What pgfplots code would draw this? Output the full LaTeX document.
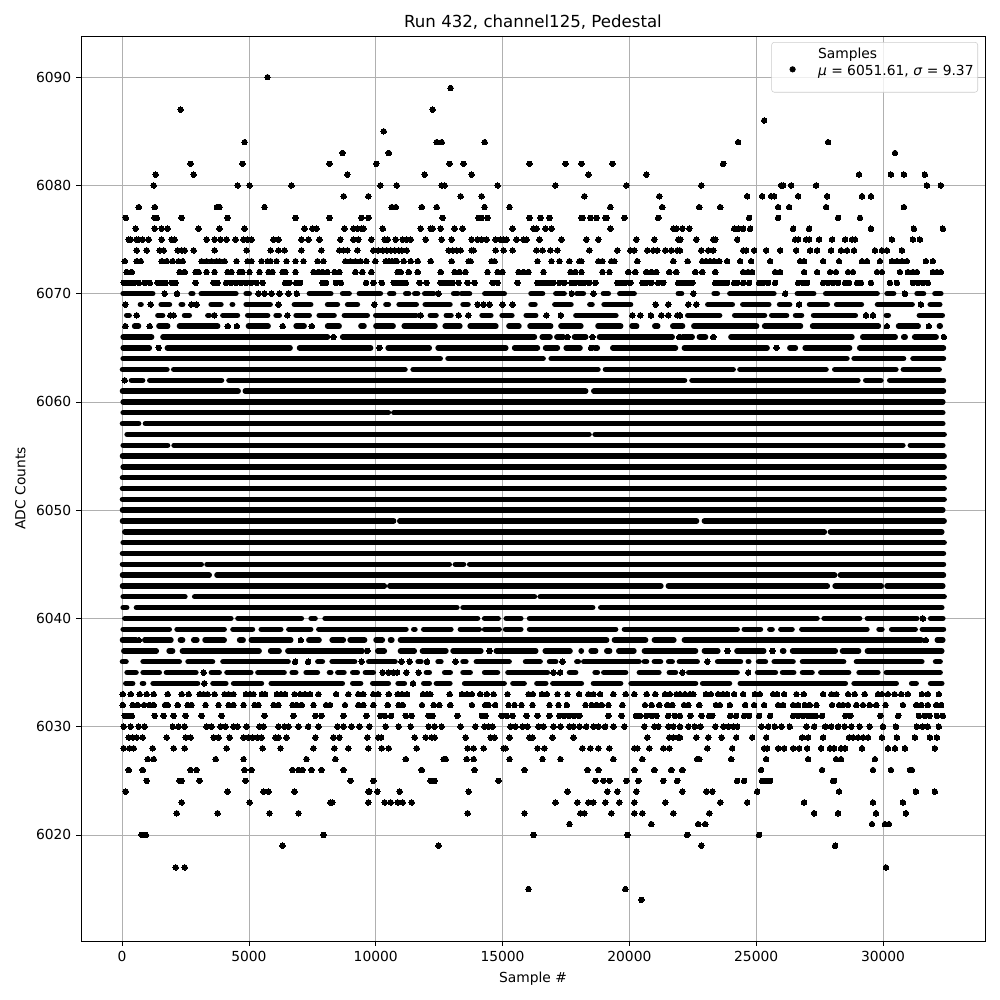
\documentclass[border=0pt]{standalone}
\usepackage{fontspec}
\setmainfont{DejaVu Sans}
\usepackage{pgfplots}
\pgfplotsset{compat=1.18}
\begin{document}
\begin{tikzpicture}[x=0.7227pt,y=0.7227pt]
\useasboundingbox (-81,-59) rectangle (919,941);
\begin{axis}[
  at={(0,0)},anchor=south west,
  scale only axis,width=653.3pt,height=654.0pt,
  xmin=-1620,xmax=34020,ymin=6010.2,ymax=6093.8,
  xtick={0,5000,10000,15000,20000,25000,30000},
  ytick={6020,6030,6040,6050,6060,6070,6080,6090},
  scaled x ticks=false,scaled y ticks=false,
  /pgf/number format/assume math mode=true,
  /pgf/number format/1000 sep={},
  tick style={black,line width=0.58pt},
  major tick length=3.5pt,
  tick align=outside,tick pos=left,
  axis line style={line width=0.58pt},
  grid=major,grid style={color=black!31,line width=0.58pt},
  unbounded coords=jump,
  tick label style={font=\fontsize{10}{12}\selectfont},
  label style={font=\fontsize{10}{12}\selectfont},
  xlabel style={yshift=-0.7pt},
  ylabel style={yshift=0.7pt},
  title style={font=\fontsize{12}{14}\selectfont,yshift=-5pt},
  title={Run 432, channel125, Pedestal},
  xlabel={Sample \#},ylabel={ADC Counts},
  legend cell align=left,
  legend image code/.code={\path (-13pt,0) (17.2pt,0);\fill[black,fill opacity=1] (0,-1.5pt) circle (2pt);},
  legend style={at={(0.9923,0.9934)},anchor=north east,draw=black!20,rounded corners=2pt,
    fill opacity=0.8,text opacity=1,inner xsep=2pt,inner ysep=2pt,
    font=\fontsize{10}{12}\selectfont,
    nodes={inner sep=1pt,text depth=},
    /tikz/every even column/.append style={column sep=6pt}},
  seg/.style={forget plot,black,line width=3.9pt,line cap=round,line join=round,mark=none},
  pts/.style={only marks,mark=*,mark size=2pt,black,mark options={line width=0pt,draw=none,fill=black}},
]
% sparse samples, row by row
\addplot[pts] coordinates {
(5733,6090)(12953,6089)(2309,6087)(12245,6087)(25314,6086)(10316,6085)
(4828,6084)(12402,6084)(12599,6084)(14292,6084)(24291,6084)(27833,6084)
(8685,6083)(10513,6083)(30471,6083)
(2703,6082)(4749,6082)(8174,6082)(10023,6082)(12914,6082)(13465,6082)(16063,6082)(17480,6082)(18109,6082)(19330,6082)(23701,6082)
(1325,6081)(2821,6081)(8882,6081)(11930,6081)(13780,6081)(18385,6081)(20668,6081)(29054,6081)(30313,6081)(30825,6081)(31651,6081)
(1246,6080)(4553,6080)(5025,6080)(6678,6080)(10185,6080)(10828,6080)(12599,6080)(12717,6080)(14803,6080)(17086,6080)(19881,6080)(22835,6080)(25983,6080)(26062,6080)(26377,6080)(27361,6080)(31730,6080)(32281,6080)
(8738,6079)(9709,6079)(13347,6079)(14173,6079)(18228,6079)(21180,6079)(24645,6079)(25236,6079)(25590,6079)(25708,6079)(26653,6079)(27794,6079)(29172,6079)(29526,6079)
(656,6078)(1286,6078)(3739,6078)(3844,6078)(5615,6078)(10631,6078)(10789,6078)(11812,6078)(12402,6078)(14292,6078)(15276,6078)(19251,6078)(21298,6078)(22756,6078)(23583,6078)(25865,6078)(26298,6078)(27755,6078)(30825,6078)
(144,6077)(1286,6077)(1365,6077)(2348,6077)(4159,6077)(6836,6077)(8174,6077)(9433,6077)(9709,6077)(12638,6077)(14055,6077)(14173,6077)(14410,6077)(16063,6077)(16496,6077)(16850,6077)(18109,6077)(18150,6077)(18464,6077)(18700,6077)(19054,6077)(19093,6077)(19802,6077)(21140,6077)(24724,6077)(25865,6077)(28227,6077)(29093,6077)
(538,6076)(1286,6076)(1561,6076)(1797,6076)(3018,6076)(3844,6076)(4828,6076)(7190,6076)(7505,6076)(7662,6076)(8764,6076)(9118,6076)(9276,6076)(9433,6076)(9512,6076)(10277,6076)(11773,6076)(12166,6076)(12245,6076)(12560,6076)(13111,6076)(13426,6076)(15394,6076)(16220,6076)(16338,6076)(16693,6076)(16929,6076)(19251,6076)(21731,6076)(21849,6076)(22087,6076)(22362,6076)(24134,6076)(24291,6076)(24488,6076)(24763,6076)(26456,6076)(27086,6076)(29526,6076)(31218,6076)(32360,6076)
(262,6075)(341,6075)(577,6075)(656,6075)(813,6075)(1050,6075)(1561,6075)(1955,6075)(2073,6075)(3332,6075)(3647,6075)(3884,6075)(4120,6075)(4474,6075)(4789,6075)(4946,6075)(5104,6075)(5970,6075)(6166,6075)(7072,6075)(7347,6075)(7780,6075)(8607,6075)(9118,6075)(9315,6075)(9827,6075)(10356,6075)(10474,6075)(10789,6075)(11064,6075)(11221,6075)(11379,6075)(11969,6075)(12599,6075)(12993,6075)(13780,6075)(14016,6075)(14173,6075)(14370,6075)(14725,6075)(14921,6075)(15039,6075)(15157,6075)(15551,6075)(15827,6075)(15945,6075)(16456,6075)(17322,6075)(18306,6075)(18779,6075)(20274,6075)(20983,6075)(21927,6075)(22008,6075)(22638,6075)(23307,6075)(23386,6075)(24252,6075)(26535,6075)(26653,6075)(26967,6075)(27086,6075)(27479,6075)(27991,6075)(28503,6075)(28778,6075)(28896,6075)(30352,6075)(31179,6075)(31455,6075)
(577,6074)(971,6074)(1483,6074)(1640,6074)(2191,6074)(2348,6074)(2467,6074)(2821,6074)(3647,6074)(4907,6074)(5852,6074)(6166,6074)(6403,6074)(7072,6074)(7859,6074)(8567,6074)(8725,6074)(8882,6074)(9276,6074)(9906,6074)(10102,6074)(10277,6074)(10434,6074)(10592,6074)(10749,6074)(10907,6074)(11025,6074)(11221,6074)(12875,6074)(13032,6074)(13190,6074)(13347,6074)(13780,6074)(13859,6074)(14725,6074)(15039,6074)(15394,6074)(16338,6074)(16575,6074)(16889,6074)(17165,6074)(18424,6074)(19526,6074)(20038,6074)(20196,6074)(20707,6074)(20943,6074)(21100,6074)(21416,6074)(21652,6074)(21888,6074)(21993,6074)(22835,6074)(23110,6074)(23307,6074)(24488,6074)(24606,6074)(24921,6074)(25393,6074)(25944,6074)(26574,6074)(27125,6074)(27400,6074)(27951,6074)(28345,6074)(28581,6074)(28857,6074)(29683,6074)(29959,6074)(30156,6074)(30746,6074)
(105,6073)(577,6073)(735,6073)(1561,6073)(1758,6073)(1994,6073)(2230,6073)(2388,6073)(3136,6073)(3332,6073)(3529,6073)(3726,6073)(3844,6073)(4041,6073)(4513,6073)(4946,6073)(5104,6073)(5497,6073)(5733,6073)(5852,6073)(6088,6073)(6481,6073)(6836,6073)(7150,6073)(7702,6073)(7938,6073)(8804,6073)(9000,6073)(9197,6073)(9394,6073)(9630,6073)(9984,6073)(10395,6073)(10513,6073)(10631,6073)(10749,6073)(10828,6073)(11103,6073)(11379,6073)(11654,6073)(12166,6073)(12993,6073)(13662,6073)(13741,6073)(14567,6073)(14685,6073)(16378,6073)(16929,6073)(17244,6073)(17637,6073)(18031,6073)(18109,6073)(18779,6073)(18936,6073)(19290,6073)(19408,6073)(20314,6073)(21731,6073)(22297,6073)(22874,6073)(23031,6073)(23189,6073)(23346,6073)(23543,6073)(23858,6073)(24370,6073)(24803,6073)(25551,6073)(26731,6073)(26889,6073)(27637,6073)(28266,6073)(29172,6073)(29368,6073)(29880,6073)(30352,6073)(30549,6073)(30746,6073)(30943,6073)(31691,6073)(31966,6073)
(184,6072)(380,6072)(2270,6072)(2467,6072)(2900,6072)(3018,6072)(3332,6072)(3647,6072)(4159,6072)(4316,6072)(4631,6072)(4749,6072)(5025,6072)(5418,6072)(5773,6072)(5930,6072)(6324,6072)(6442,6072)(6836,6072)(7544,6072)(7741,6072)(7898,6072)(8095,6072)(8370,6072)(8567,6072)(9197,6072)(9473,6072)(9827,6072)(10867,6072)(10985,6072)(11300,6072)(11654,6072)(12560,6072)(13111,6072)(13308,6072)(13544,6072)(14410,6072)(14803,6072)(15000,6072)(15630,6072)(15827,6072)(16023,6072)(16614,6072)(17677,6072)(17874,6072)(18109,6072)(18936,6072)(19212,6072)(19959,6072)(20235,6072)(20668,6072)(20865,6072)(21061,6072)(21573,6072)(21849,6072)(22599,6072)(22874,6072)(23386,6072)(24488,6072)(24685,6072)(24842,6072)(25747,6072)(25944,6072)(26889,6072)(27400,6072)(27912,6072)(28148,6072)(28621,6072)(28817,6072)(29762,6072)(29959,6072)(30667,6072)(30982,6072)(31179,6072)(31336,6072)(31966,6072)(32124,6072)(32281,6072)
(66,6071)(328,6071)(197,6071)(459,6071)(656,6071)(892,6071)(1089,6071)(1404,6071)(1560,6071)(1719,6071)(1955,6071)(2112,6071)(2900,6071)(3608,6071)(3765,6071)(4100,6071)(4300,6071)(4500,6071)(4700,6071)(4900,6071)(5100,6071)(5300,6071)(5540,6071)(6429,6071)(6599,6071)(6862,6071)(7019,6071)(7900,6071)(8040,6071)(8431,6071)(8625,6071)(9617,6071)(9906,6071)(10237,6071)(10710,6071)(10867,6071)(11025,6071)(11182,6071)(11733,6071)(12009,6071)(12560,6071)(12717,6071)(12875,6071)(13032,6071)(13268,6071)(13622,6071)(13898,6071)(14606,6071)(14803,6071)(15590,6071)(16378,6071)(16535,6071)(16693,6071)(16850,6071)(17007,6071)(17244,6071)(17441,6071)(17716,6071)(17874,6071)(18070,6071)(18228,6071)(18424,6071)(18661,6071)(19526,6071)(19684,6071)(19842,6071)(20038,6071)(20510,6071)(20668,6071)(20865,6071)(21140,6071)(21337,6071)(21927,6071)(22008,6071)(22166,6071)(22323,6071)(22481,6071)(23386,6071)(23543,6071)(23701,6071)(23858,6071)(24134,6071)(24252,6071)(24488,6071)(24724,6071)(25118,6071)(25275,6071)(25472,6071)(25747,6071)(26653,6071)(26850,6071)(27007,6071)(27637,6071)(27834,6071)(28030,6071)(28227,6071)(28503,6071)(28660,6071)(28975,6071)(29132,6071)(29526,6071)(30274,6071)(30549,6071)(31179,6071)(31376,6071)(31573,6071)(31769,6071)
(1679,6070)(2165,6070)(5379,6070)(5615,6070)(5891,6070)(6206,6070)(6560,6070)(6888,6070)(12481,6070)(17729,6070)(18582,6070)(22520,6070)(26141,6070)(30864,6070)
(131,6069)(1128,6069)(2729,6069)(2939,6069)(6166,6069)(9945,6069)(14016,6069)(14252,6069)(14488,6069)(15000,6069)(15394,6069)(21035,6069)(21534,6069)(22323,6069)(22638,6069)(26692,6069)(31494,6069)
(577,6068)(1902,6068)(2034,6068)(3634,6068)(6521,6068)(11773,6068)(13268,6068)(13650,6068)(16732,6068)(17300,6068)(20117,6068)(20432,6068)(20850,6068)(21258,6068)(21534,6068)(21888,6068)(21995,6068)(29329,6068)(29605,6068)
(131,6067)(1089,6067)(4165,6067)(4526,6067)(6330,6067)(7478,6067)(30156,6067)(31809,6067)
(8331,6066)(17558,6066)(18542,6066)(21967,6066)(23307,6066)(32399,6066)
(1443,6065)(10142,6065)(18490,6065)(25800,6065)
(105,6062)(30785,6037)(31573,6040)
(662,6038)(7045,6038)(31691,6038)(9669,6037)(14488,6037)(23871,6037)(25642,6037)
(6822,6036)(7334,6036)(9446,6036)(11012,6036)(11340,6036)(12022,6036)(13150,6036)(17362,6036)(23071,6036)
(3214,6035)(10277,6035)(10513,6035)(10710,6035)(10841,6035)(11208,6035)(11694,6035)(17007,6035)(17270,6035)(22087,6035)(24685,6035)
(3241,6034)(11471,6034)
(26,6033)(341,6033)(695,6033)(971,6033)(1246,6033)(1797,6033)(2348,6033)(2624,6033)(3057,6033)(3214,6033)(3372,6033)(3647,6033)(4041,6033)(4198,6033)(4395,6033)(4881,6033)(5051,6033)(5182,6033)(5510,6033)(5642,6033)(6101,6033)(6271,6033)(6429,6033)(6796,6033)(7019,6033)(7216,6033)(7413,6033)(7741,6033)(8436,6033)(8922,6033)(9315,6033)(9512,6033)(9906,6033)(10102,6033)(10513,6033)(10867,6033)(11038,6033)(11235,6033)(11864,6033)(12022,6033)(12153,6033)(12914,6033)(13399,6033)(13596,6033)(13793,6033)(14121,6033)(14383,6033)(14646,6033)(15197,6033)(16023,6033)(16194,6033)(16548,6033)(16745,6033)(17165,6033)(17558,6033)(18018,6033)(18385,6033)(18582,6033)(18844,6033)(19369,6033)(19854,6033)(20196,6033)(20681,6033)(21022,6033)(21403,6033)(21599,6033)(21862,6033)(21995,6033)(22192,6033)(22389,6033)(22520,6033)(23018,6033)(23215,6033)(23504,6033)(23701,6033)(23858,6033)(24134,6033)(24488,6033)(24947,6033)(25144,6033)(25669,6033)(25826,6033)(26102,6033)(26587,6033)(26875,6033)(27637,6033)(27965,6033)(28162,6033)(28621,6033)(28883,6033)(29277,6033)(29802,6033)(29959,6033)(30195,6033)(30457,6033)(30720,6033)(30982,6033)(31533,6033)(31769,6033)(32202,6033)
(26,6032)(420,6032)(617,6032)(866,6032)(1089,6032)(1246,6032)(1692,6032)(1797,6032)(2191,6032)(2585,6032)(2742,6032)(3293,6032)(3805,6032)(4198,6032)(4395,6032)(4789,6032)(5222,6032)(5379,6032)(5970,6032)(6166,6032)(6717,6032)(6888,6032)(7085,6032)(7544,6032)(8043,6032)(8200,6032)(8790,6032)(9315,6032)(9512,6032)(9906,6032)(10474,6032)(10907,6032)(11064,6032)(11825,6032)(12284,6032)(12507,6032)(12940,6032)(13793,6032)(14318,6032)(14449,6032)(14711,6032)(15236,6032)(15472,6032)(15748,6032)(16181,6032)(16850,6032)(17204,6032)(17532,6032)(18267,6032)(18516,6032)(18713,6032)(18910,6032)(19172,6032)(19723,6032)(20616,6032)(20878,6032)(21180,6032)(21495,6032)(21691,6032)(22152,6032)(22323,6032)(22756,6032)(23412,6032)(23569,6032)(23963,6032)(24567,6032)(24921,6032)(25314,6032)(25865,6032)(26062,6032)(26456,6032)(26653,6032)(26915,6032)(27112,6032)(27374,6032)(27991,6032)(28267,6032)(28424,6032)(28621,6032)(28949,6032)(29211,6032)(29474,6032)(29736,6032)(30103,6032)(30785,6032)(31310,6032)(31507,6032)(31769,6032)(32097,6032)(32294,6032)
(105,6031)(223,6031)(380,6031)(1286,6031)(1640,6031)(2034,6031)(2506,6031)(3136,6031)(3923,6031)(5615,6031)(6757,6031)(7623,6031)(7859,6031)(8725,6031)(9630,6031)(10185,6031)(10356,6031)(10605,6031)(11182,6031)(11418,6031)(12087,6031)(12245,6031)(13216,6031)(14187,6031)(14331,6031)(14961,6031)(15171,6031)(15394,6031)(15945,6031)(16378,6031)(16850,6031)(17244,6031)(17441,6031)(17637,6031)(17834,6031)(18031,6031)(19172,6031)(19697,6031)(20261,6031)(20419,6031)(20668,6031)(20878,6031)(21075,6031)(21534,6031)(21796,6031)(21995,6031)(22402,6031)(22848,6031)(23150,6031)(23268,6031)(23976,6031)(24212,6031)(24527,6031)(24724,6031)(25118,6031)(25551,6031)(26456,6031)(26653,6031)(26850,6031)(27046,6031)(27204,6031)(27348,6031)(27597,6031)(28516,6031)(28712,6031)(29893,6031)(30602,6031)(31415,6031)(31638,6031)(31835,6031)(32124,6031)(32360,6031)
(66,6030)(341,6030)(656,6030)(892,6030)(2000,6030)(2230,6030)(2467,6030)(3332,6030)(3529,6030)(3884,6030)(4080,6030)(4395,6030)(4553,6030)(4907,6030)(5419,6030)(5576,6030)(6166,6030)(6403,6030)(6560,6030)(6954,6030)(7334,6030)(7741,6030)(8489,6030)(8725,6030)(9040,6030)(9355,6030)(9748,6030)(10395,6030)(10907,6030)(11379,6030)(12087,6030)(12324,6030)(12599,6030)(13347,6030)(13924,6030)(14292,6030)(14449,6030)(14606,6030)(15315,6030)(15512,6030)(15787,6030)(15984,6030)(16417,6030)(16614,6030)(17007,6030)(17283,6030)(17637,6030)(17795,6030)(18031,6030)(18293,6030)(18582,6030)(18779,6030)(19041,6030)(19369,6030)(19802,6030)(20589,6030)(20983,6030)(21140,6030)(21534,6030)(21731,6030)(21995,6030)(22323,6030)(22585,6030)(22808,6030)(23386,6030)(23701,6030)(23897,6030)(24094,6030)(24252,6030)(25209,6030)(25472,6030)(25735,6030)(25997,6030)(26325,6030)(26981,6030)(27282,6030)(27715,6030)(27952,6030)(28227,6030)(28489,6030)(28752,6030)(29080,6030)(29474,6030)(29998,6030)(30510,6030)(31337,6030)(31573,6030)(31769,6030)(32202,6030)
(262,6029)(420,6029)(577,6029)(813,6029)(1758,6029)(2506,6029)(2703,6029)(3608,6029)(3805,6029)(4238,6029)(4789,6029)(4986,6029)(5143,6029)(5340,6029)(5497,6029)(6048,6029)(6166,6029)(6481,6029)(7623,6029)(8331,6029)(8567,6029)(9669,6029)(10102,6029)(10211,6029)(11536,6029)(11969,6029)(12205,6029)(12324,6029)(13544,6029)(14528,6029)(14685,6029)(15276,6029)(16063,6029)(16181,6029)(16968,6029)(17795,6029)(20707,6029)(21573,6029)(21731,6029)(21927,6029)(21995,6029)(22638,6029)(23110,6029)(23635,6029)(24212,6029)(24842,6029)(25393,6029)(26810,6029)(27046,6029)(27637,6029)(28660,6029)(28817,6029)(29014,6029)(29211,6029)(29408,6029)(29959,6029)(30549,6029)(31258,6029)(31848,6029)(32124,6029)
(66,6028)(302,6028)(459,6028)(1207,6028)(2034,6028)(2467,6028)(4120,6028)(5537,6028)(6245,6028)(7544,6028)(8371,6028)(8922,6028)(9709,6028)(10237,6028)(10513,6028)(11615,6028)(13622,6028)(13859,6028)(14252,6028)(15039,6028)(15118,6028)(16378,6028)(16653,6028)(18149,6028)(18464,6028)(18779,6028)(19212,6028)(20196,6028)(20314,6028)(20786,6028)(21337,6028)(21573,6028)(23071,6028)(24055,6028)(25314,6028)(25432,6028)(25865,6028)(26102,6028)(26456,6028)(26692,6028)(27007,6028)(27558,6028)(27912,6028)(28070,6028)(28345,6028)(28503,6028)(29172,6028)(30195,6028)(30471,6028)(30864,6028)(32045,6028)
(1010,6027)(1246,6027)(3687,6027)(4789,6027)(7268,6027)(8410,6027)(11182,6027)(12678,6027)(12757,6027)(13583,6027)(13859,6027)(15276,6027)(16575,6027)(17283,6027)(19369,6027)(20510,6027)(22677,6027)(22756,6027)(24016,6027)(25393,6027)(27046,6027)(28148,6027)(28345,6027)(29683,6027)
(262,6026)(813,6026)(2703,6026)(2939,6026)(4828,6026)(5104,6026)(6717,6026)(6954,6026)(7111,6026)(7465,6026)(7859,6026)(8725,6026)(11812,6026)(13898,6026)(15866,6026)(18346,6026)(18779,6026)(20196,6026)(20983,6026)(21652,6026)(22087,6026)(25196,6026)(27597,6026)(29605,6026)(30313,6026)(31061,6026)(31140,6026)
(971,6025)(2270,6025)(2348,6025)(3057,6025)(4868,6025)(9000,6025)(9906,6025)(12166,6025)(12324,6025)(14843,6025)(18660,6025)(18975,6025)(19212,6025)(19881,6025)(20353,6025)(21337,6025)(21888,6025)(24252,6025)(24527,6025)(25236,6025)(25393,6025)(25551,6025)(28030,6025)(28070,6025)
(144,6024)(4159,6024)(5576,6024)(5773,6024)(6796,6024)(9709,6024)(9748,6024)(10063,6024)(10946,6024)(13662,6024)(17558,6024)(19133,6024)(19526,6024)(20274,6024)(22087,6024)(23031,6024)(23268,6024)(25039,6024)(28266,6024)(31297,6024)(32045,6024)
(2348,6023)(5025,6023)(8213,6023)(8292,6023)(9709,6023)(10356,6023)(10592,6023)(10867,6023)(11064,6023)(11418,6023)(17086,6023)(17952,6023)(18385,6023)(18582,6023)(19054,6023)(19605,6023)(20196,6023)(21416,6023)(23583,6023)(24645,6023)(26889,6023)(29605,6023)(30785,6023)
(2152,6022)(3765,6022)(5812,6022)(6954,6022)(13622,6022)(15866,6022)(18070,6022)(18228,6022)(19290,6022)(20196,6022)(20510,6022)(21731,6022)(23150,6022)(27282,6022)(28227,6022)(29723,6022)(30903,6022)
(17637,6021)(20865,6021)(22717,6021)(22992,6021)(29565,6021)(30077,6021)(30234,6021)
(774,6020)(932,6020)(7938,6020)(16220,6020)(19920,6020)(22284,6020)(25118,6020)
(6324,6019)(12481,6019)(22835,6019)(28109,6019)
(2112,6017)(2467,6017)(30116,6017)
(16023,6015)(19841,6015)(20471,6014)
};
\addlegendentry{\begin{tabular}{@{}l@{}}Samples\\[0.7pt]\textit{μ} = 6051.61, \textit{σ} = 9.37\rule[-9pt]{0pt}{0pt}\end{tabular}}
% runs of samples too close together to separate: start and end of each run
\addplot[seg] coordinates {
(40,6070)(1210,6070)(0,nan)(2720,6070)(2790,6070)(0,nan)(3118,6070)(4490,6070)(0,nan)(4889,6070)(5017,6070)(0,nan)(7382,6070)(8231,6070)(0,nan)(8694,6070)(8953,6070)(0,nan)(9350,6070)(10185,6070)(0,nan)(10552,6070)(10710,6070)(0,nan)(11182,6070)(11300,6070)(0,nan)(11536,6070)(11654,6070)(0,nan)(11930,6070)(12284,6070)(0,nan)(13071,6070)(13229,6070)(0,nan)(13386,6070)(13701,6070)(0,nan)(14300,6070)(15070,6070)(0,nan)(16120,6070)(16580,6070)(0,nan)(17100,6070)(17430,6070)(0,nan)(17926,6070)(18188,6070)(0,nan)(18975,6070)(19172,6070)(0,nan)(19620,6070)(20190,6070)(0,nan)(21927,6070)(22060,6070)(0,nan)(23340,6070)(23470,6070)(0,nan)(23960,6070)(25700,6070)(0,nan)(26620,6070)(27270,6070)(0,nan)(27740,6070)(29770,6070)(0,nan)(30160,6070)(30420,6070)(0,nan)(31340,6070)(31600,6070)(0,nan)(32045,6070)(32281,6070)(0,nan)
(720,6069)(750,6069)(0,nan)(1540,6069)(1870,6069)(0,nan)(2330,6069)(2390,6069)(0,nan)(3510,6069)(3900,6069)(0,nan)(4340,6069)(4360,6069)(0,nan)(4890,6069)(5840,6069)(0,nan)(6790,6069)(7440,6069)(0,nan)(8100,6069)(8490,6069)(0,nan)(8890,6069)(9280,6069)(0,nan)(10400,6069)(10500,6069)(0,nan)(10920,6069)(11600,6069)(0,nan)(11950,6069)(12930,6069)(0,nan)(13440,6069)(13640,6069)(0,nan)(16120,6069)(16280,6069)(0,nan)(17060,6069)(17700,6069)(0,nan)(18440,6069)(18530,6069)(0,nan)(19000,6069)(20050,6069)(0,nan)(23090,6069)(24060,6069)(0,nan)(24470,6069)(25500,6069)(0,nan)(25920,6069)(26320,6069)(0,nan)(27100,6069)(27810,6069)(0,nan)(28170,6069)(29150,6069)(0,nan)(29780,6069)(31150,6069)(0,nan)(31860,6069)(32240,6069)(0,nan)
(180,6068)(280,6068)(0,nan)(1410,6068)(1600,6068)(0,nan)(2460,6068)(2650,6068)(0,nan)(3380,6068)(3440,6068)(0,nan)(3970,6068)(4550,6068)(0,nan)(4950,6068)(5740,6068)(0,nan)(6070,6068)(6200,6068)(0,nan)(6860,6068)(7380,6068)(0,nan)(7770,6068)(8360,6068)(0,nan)(8760,6068)(9670,6068)(0,nan)(10000,6068)(11590,6068)(0,nan)(12150,6068)(12380,6068)(0,nan)(12780,6068)(12970,6068)(0,nan)(14190,6068)(14540,6068)(0,nan)(14980,6068)(15370,6068)(0,nan)(15930,6068)(16310,6068)(0,nan)(17890,6068)(19470,6068)(0,nan)(22300,6068)(23560,6068)(0,nan)(24150,6068)(25330,6068)(0,nan)(25610,6068)(26200,6068)(0,nan)(26550,6068)(26790,6068)(0,nan)(27260,6068)(28910,6068)(0,nan)(30130,6068)(30210,6068)(0,nan)(31430,6068)(32340,6068)(0,nan)
(490,6067)(650,6067)(0,nan)(1450,6067)(1800,6067)(0,nan)(2260,6067)(3770,6067)(0,nan)(4980,6067)(5760,6067)(0,nan)(6860,6067)(7180,6067)(0,nan)(8100,6067)(8560,6067)(0,nan)(9415,6067)(9540,6067)(0,nan)(10005,6067)(10690,6067)(0,nan)(11120,6067)(12340,6067)(0,nan)(12735,6067)(13320,6067)(0,nan)(13720,6067)(14740,6067)(0,nan)(15250,6067)(15650,6067)(0,nan)(16080,6067)(16900,6067)(0,nan)(17300,6067)(18090,6067)(0,nan)(18760,6067)(19660,6067)(0,nan)(20100,6067)(20290,6067)(0,nan)(21000,6067)(21120,6067)(0,nan)(21710,6067)(22100,6067)(0,nan)(22540,6067)(25020,6067)(0,nan)(25330,6067)(26750,6067)(0,nan)(27220,6067)(29820,6067)(0,nan)(30610,6067)(31390,6067)(0,nan)(32220,6067)(32260,6067)(0,nan)
(40,6066)(1168,6066)(0,nan)(1609,6066)(8100,6066)(0,nan)(8694,6066)(16260,6066)(0,nan)(16561,6066)(16876,6066)(0,nan)(17139,6066)(17400,6066)(0,nan)(17834,6066)(18280,6066)(0,nan)(18818,6066)(21691,6066)(0,nan)(22100,6066)(22480,6066)(0,nan)(22756,6066)(23005,6066)(0,nan)(24002,6066)(28778,6066)(0,nan)(29198,6066)(30484,6066)(0,nan)(30812,6066)(30877,6066)(0,nan)(31245,6066)(32097,6066)(0,nan)
(40,6065)(1076,6065)(0,nan)(1784,6065)(6626,6065)(0,nan)(6993,6065)(9801,6065)(0,nan)(10487,6065)(12114,6065)(0,nan)(12455,6065)(15131,6065)(0,nan)(15472,6065)(16378,6065)(0,nan)(16693,6065)(17165,6065)(0,nan)(17506,6065)(18057,6065)(0,nan)(18640,6065)(18739,6065)(0,nan)(19343,6065)(21822,6065)(0,nan)(22166,6065)(25432,6065)(0,nan)(26325,6065)(26548,6065)(0,nan)(26928,6065)(28686,6065)(0,nan)(29080,6065)(32386,6065)(0,nan)
(40,6064)(12547,6064)(0,nan)(12848,6064)(16601,6064)(0,nan)(16915,6064)(28581,6064)(0,nan)(28857,6064)(30812,6064)(0,nan)(31179,6064)(32386,6064)(0,nan)
(13,6063)(1771,6063)(0,nan)(2034,6063)(11156,6063)(0,nan)(11471,6063)(18765,6063)(0,nan)(19054,6063)(24094,6063)(0,nan)(24357,6063)(27755,6063)(0,nan)(28096,6063)(30510,6063)(0,nan)(30799,6063)(32216,6063)(0,nan)
(367,6062)(813,6062)(0,nan)(1089,6062)(3923,6062)(0,nan)(4211,6062)(22179,6062)(0,nan)(22467,6062)(29014,6062)(0,nan)(29316,6062)(29919,6062)(0,nan)(30261,6062)(32386,6062)(0,nan)
(13,6061)(4579,6061)(0,nan)(4854,6061)(18280,6061)(0,nan)(18595,6061)(32386,6061)(0,nan)
(40,6060)(32360,6060)(0,nan)
(40,6059)(10500,6059)(0,nan)(10710,6059)(32360,6059)(0,nan)
(13,6058)(656,6058)(0,nan)(918,6058)(32360,6058)(0,nan)
(197,6057)(18411,6057)(0,nan)(18647,6057)(32412,6057)(0,nan)
(40,6056)(1797,6056)(0,nan)(2047,6056)(30785,6056)(0,nan)(31074,6056)(32360,6056)(0,nan)
(13,6055)(32412,6055)(0,nan)(40,6054)(32412,6054)(0,nan)(13,6053)(32412,6053)(0,nan)(13,6052)(32412,6052)(0,nan)(13,6051)(32412,6051)(0,nan)(13,6050)(32360,6050)(0,nan)
(13,6049)(10710,6049)(0,nan)(10946,6049)(22651,6049)(0,nan)(22953,6049)(32412,6049)(0,nan)
(105,6048)(27689,6048)(0,nan)(27925,6048)(32320,6048)(0,nan)
(40,6047)(32412,6047)(0,nan)(13,6046)(32386,6046)(0,nan)
(13,6045)(3123,6045)(0,nan)(3346,6045)(12901,6045)(0,nan)(13137,6045)(13465,6045)(0,nan)(13701,6045)(32386,6045)(0,nan)
(13,6044)(3437,6044)(0,nan)(3739,6044)(28096,6044)(0,nan)(28319,6044)(32386,6044)(0,nan)
(13,6043)(10342,6043)(0,nan)(10552,6043)(21245,6043)(0,nan)(21534,6043)(27807,6043)(0,nan)(28109,6043)(29933,6043)(0,nan)(30156,6043)(32360,6043)(0,nan)
(40,6042)(2480,6042)(0,nan)(2860,6042)(16260,6042)(0,nan)(16483,6042)(32412,6042)(0,nan)
(40,6041)(184,6041)(0,nan)(564,6041)(13203,6041)(0,nan)(13439,6041)(18556,6041)(0,nan)(18870,6041)(32320,6041)(0,nan)
(105,6040)(4290,6040)(0,nan)(4566,6040)(7072,6040)(0,nan)(7452,6040)(7610,6040)(0,nan)(8003,6040)(14016,6040)(0,nan)(14292,6040)(14829,6040)(0,nan)(15144,6040)(15722,6040)(0,nan)(16063,6040)(27400,6040)(0,nan)(27676,6040)(29080,6040)(0,nan)(29382,6040)(31337,6040)(0,nan)(31874,6040)(32360,6040)(0,nan)
(40,6039)(1863,6039)(0,nan)(2165,6039)(4028,6039)(0,nan)(4369,6039)(5143,6039)(0,nan)(5484,6039)(6258,6039)(0,nan)(6573,6039)(7439,6039)(0,nan)(7754,6039)(11195,6039)(0,nan)(11497,6039)(11550,6039)(0,nan)(11891,6039)(12966,6039)(0,nan)(13334,6039)(14082,6039)(0,nan)(14292,6039)(14869,6039)(0,nan)(15118,6039)(15722,6039)(0,nan)(16063,6039)(19461,6039)(0,nan)(19802,6039)(24252,6039)(0,nan)(24527,6039)(25170,6039)(0,nan)(25537,6039)(25629,6039)(0,nan)(25970,6039)(26416,6039)(0,nan)(26797,6039)(29368,6039)(0,nan)(29841,6039)(29959,6039)(0,nan)(30339,6039)(31271,6039)(0,nan)(31547,6039)(32386,6039)(0,nan)
(13,6038)(551,6038)(0,nan)(892,6038)(1929,6038)(0,nan)(2296,6038)(2388,6038)(0,nan)(2821,6038)(2952,6038)(0,nan)(3267,6038)(4028,6038)(0,nan)(4631,6038)(4776,6038)(0,nan)(5091,6038)(6652,6038)(0,nan)(7360,6038)(7767,6038)(0,nan)(8279,6038)(8725,6038)(0,nan)(8987,6038)(9564,6038)(0,nan)(10010,6038)(10264,6038)(0,nan)(10579,6038)(10640,6038)(0,nan)(10972,6038)(19107,6038)(0,nan)(19408,6038)(20642,6038)(0,nan)(20983,6038)(21757,6038)(0,nan)(22166,6038)(31507,6038)(0,nan)(32137,6038)(32360,6038)(0,nan)
(66,6037)(1351,6037)(0,nan)(1850,6037)(1994,6037)(0,nan)(2375,6037)(5405,6037)(0,nan)(5852,6037)(6193,6037)(0,nan)(6534,6037)(9473,6037)(0,nan)(10076,6037)(10342,6037)(0,nan)(10972,6037)(11523,6037)(0,nan)(11838,6037)(12770,6037)(0,nan)(13045,6037)(14147,6037)(0,nan)(14751,6037)(16312,6037)(0,nan)(16680,6037)(17663,6037)(0,nan)(18096,6037)(18110,6037)(0,nan)(18490,6037)(18674,6037)(0,nan)(19107,6037)(19225,6037)(0,nan)(19579,6037)(20182,6037)(0,nan)(20589,6037)(22612,6037)(0,nan)(22953,6037)(23491,6037)(0,nan)(24239,6037)(25301,6037)(0,nan)(26036,6037)(26090,6037)(0,nan)(26430,6037)(28122,6037)(0,nan)(28398,6037)(29041,6037)(0,nan)(29382,6037)(32320,6037)(0,nan)
(13,6036)(157,6036)(0,nan)(827,6036)(2257,6036)(0,nan)(2598,6036)(3569,6036)(0,nan)(3975,6036)(6547,6036)(0,nan)(7715,6036)(7898,6036)(0,nan)(8279,6036)(9171,6036)(0,nan)(9722,6036)(10762,6036)(0,nan)(11668,6036)(11786,6036)(0,nan)(12455,6036)(12573,6036)(0,nan)(13439,6036)(13557,6036)(0,nan)(13964,6036)(15262,6036)(0,nan)(15905,6036)(16483,6036)(0,nan)(16850,6036)(17099,6036)(0,nan)(17926,6036)(17990,6036)(0,nan)(18201,6036)(20379,6036)(0,nan)(20589,6036)(20681,6036)(0,nan)(20983,6036)(21232,6036)(0,nan)(21547,6036)(21691,6036)(0,nan)(21967,6036)(22677,6036)(0,nan)(23478,6036)(24383,6036)(0,nan)(24685,6036)(24710,6036)(0,nan)(25091,6036)(25367,6036)(0,nan)(25708,6036)(26456,6036)(0,nan)(26823,6036)(28450,6036)(0,nan)(28949,6036)(31533,6036)(0,nan)(32071,6036)(32255,6036)(0,nan)
(197,6035)(551,6035)(0,nan)(827,6035)(1469,6035)(0,nan)(1745,6035)(2913,6035)(0,nan)(3516,6035)(3831,6035)(0,nan)(4133,6035)(5077,6035)(0,nan)(5353,6035)(6389,6035)(0,nan)(6704,6035)(6849,6035)(0,nan)(7255,6035)(7702,6035)(0,nan)(8174,6035)(8230,6035)(0,nan)(8502,6035)(8751,6035)(0,nan)(9092,6035)(9276,6035)(0,nan)(9591,6035)(9906,6035)(0,nan)(11996,6035)(12114,6035)(0,nan)(12717,6035)(12940,6035)(0,nan)(13439,6035)(13727,6035)(0,nan)(14292,6035)(14803,6035)(0,nan)(15210,6035)(16771,6035)(0,nan)(17637,6035)(17886,6035)(0,nan)(18647,6035)(18740,6035)(0,nan)(18989,6035)(19854,6035)(0,nan)(20392,6035)(21166,6035)(0,nan)(21573,6035)(21822,6035)(0,nan)(22336,6035)(24252,6035)(0,nan)(25052,6035)(25760,6035)(0,nan)(26036,6035)(26482,6035)(0,nan)(26823,6035)(27204,6035)(0,nan)(27545,6035)(28647,6035)(0,nan)(29054,6035)(29801,6035)(0,nan)(30129,6035)(32255,6035)(0,nan)
(144,6034)(420,6034)(0,nan)(800,6034)(850,6034)(0,nan)(1220,6034)(2978,6034)(0,nan)(3582,6034)(4093,6034)(0,nan)(4395,6034)(5497,6034)(0,nan)(5878,6034)(8685,6034)(0,nan)(9092,6034)(9407,6034)(0,nan)(9880,6034)(10500,6034)(0,nan)(10880,6034)(11130,6034)(0,nan)(11891,6034)(12114,6034)(0,nan)(12389,6034)(12927,6034)(0,nan)(13504,6034)(15066,6034)(0,nan)(15407,6034)(15853,6034)(0,nan)(16352,6034)(16706,6034)(0,nan)(16981,6034)(18109,6034)(0,nan)(18582,6034)(19658,6034)(0,nan)(20064,6034)(22612,6034)(0,nan)(22887,6034)(23950,6034)(0,nan)(24370,6034)(28516,6034)(0,nan)(28857,6034)(30523,6034)(0,nan)(31127,6034)(31310,6034)(0,nan)(31874,6034)(32320,6034)(0,nan)
};
\end{axis}
\end{tikzpicture}
\end{document}
